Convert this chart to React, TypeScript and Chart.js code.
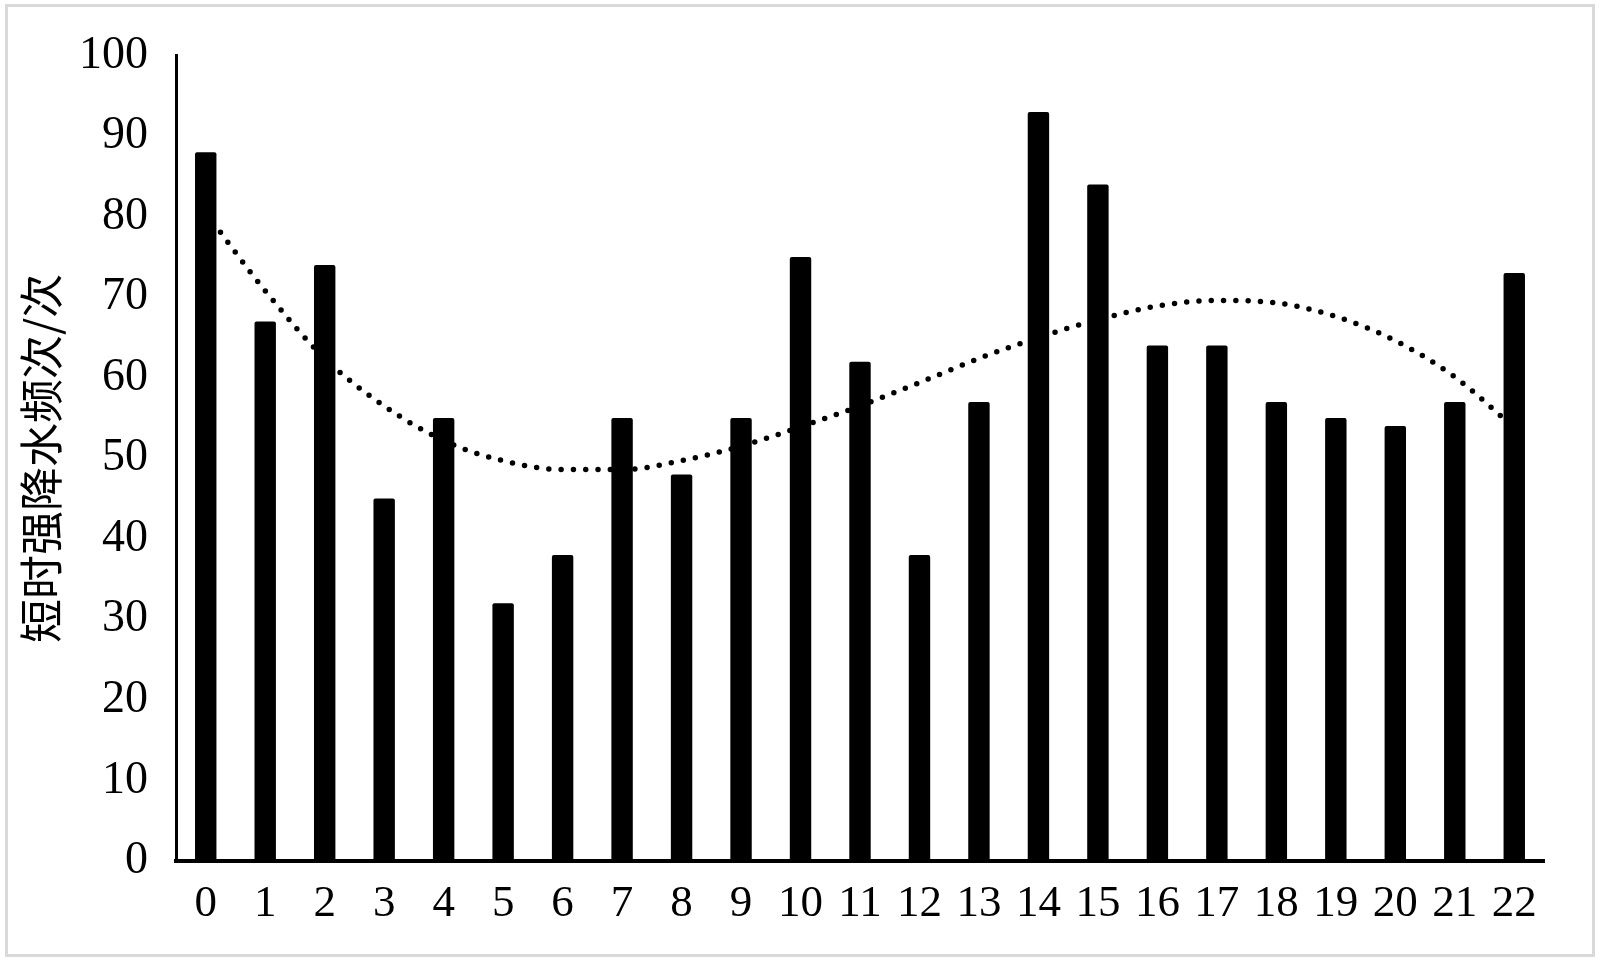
import React, { useEffect, useRef } from "react";
import { Chart, registerables } from "chart.js";

Chart.register(...registerables);

const categories = ["0","1","2","3","4","5","6","7","8","9","10","11","12","13","14","15","16","17","18","19","20","21","22"];
const counts = [88, 67, 74, 45, 55, 32, 38, 55, 48, 55, 75, 62, 38, 57, 93, 84, 64, 64, 57, 55, 54, 57, 73];
const trend = [80.5, 70.8, 62.4, 56.5, 52.2, 49.7, 48.6, 48.6, 49.7, 51.5, 53.9, 56.5, 59.4, 62.4, 65.0, 67.2, 68.9, 69.6, 69.3, 67.6, 64.6, 60.1, 53.8];
const yTitle = "短时强降水频次/次";
const yMin = 0;
const yMax = 100;
const yStep = 10;

export default function App() {
  const ref = useRef<HTMLCanvasElement | null>(null);

  useEffect(() => {
    if (!ref.current) return;
    const chart = new Chart(ref.current, {
      type: "bar",
      data: {
        labels: categories,
        datasets: [
          {
            type: "bar",
            data: counts,
            backgroundColor: "#000000",
            borderWidth: 0,
            borderRadius: 2,
            categoryPercentage: 1,
            barPercentage: 0.36,
            order: 1,
          },
          {
            type: "line",
            data: trend,
            borderColor: "#000000",
            borderWidth: 5.5,
            borderDash: [0, 12.3],
            borderCapStyle: "round",
            pointRadius: 0,
            fill: false,
            cubicInterpolationMode: "monotone",
            order: 2,
          } as any,
        ],
      },
      options: {
        animation: false,
        responsive: false,
        maintainAspectRatio: false,
        events: [],
        layout: { padding: { left: 0, right: 56, top: 52, bottom: 0 } },
        plugins: {
          legend: { display: false },
          tooltip: { enabled: false },
          title: { display: false },
        },
        scales: {
          x: {
            grid: { display: false, drawTicks: false },
            border: { display: true, color: "#000000", width: 4 },
            ticks: {
              color: "#000000",
              font: { family: "'Liberation Serif', 'Times New Roman', serif", size: 45 },
              padding: 16,
              maxRotation: 0,
              autoSkip: false,
            },
            afterFit: (scale: any) => {
              scale.height = 100;
            },
          },
          y: {
            min: yMin,
            max: yMax,
            grid: { display: false, drawTicks: false },
            border: { display: true, color: "#000000", width: 3 },
            ticks: {
              stepSize: yStep,
              color: "#000000",
              font: { family: "'Liberation Serif', 'Times New Roman', serif", size: 46 },
              padding: 28,
            },
            title: {
              display: true,
              text: yTitle,
              color: "#000000",
              font: { family: "'Noto Sans CJK SC', sans-serif", size: 44, weight: "normal" },
              padding: { top: 15, bottom: 0 },
            },
            afterFit: (scale: any) => {
              scale.width = 176;
            },
          },
        },
      },
    });
    return () => chart.destroy();
  }, []);

  return (
    <div style={{ position: "fixed", left: 0, top: 0, width: 1600, height: 961, background: "#ffffff" }}>
      <div
        style={{
          position: "absolute",
          left: 5,
          top: 4,
          width: 1590,
          height: 953,
          border: "3px solid #d9d9d9",
          boxSizing: "border-box",
        }}
      />
      <canvas ref={ref} width={1600} height={961} style={{ position: "absolute", left: 0, top: 0, width: 1600, height: 961 }} />
    </div>
  );
}
